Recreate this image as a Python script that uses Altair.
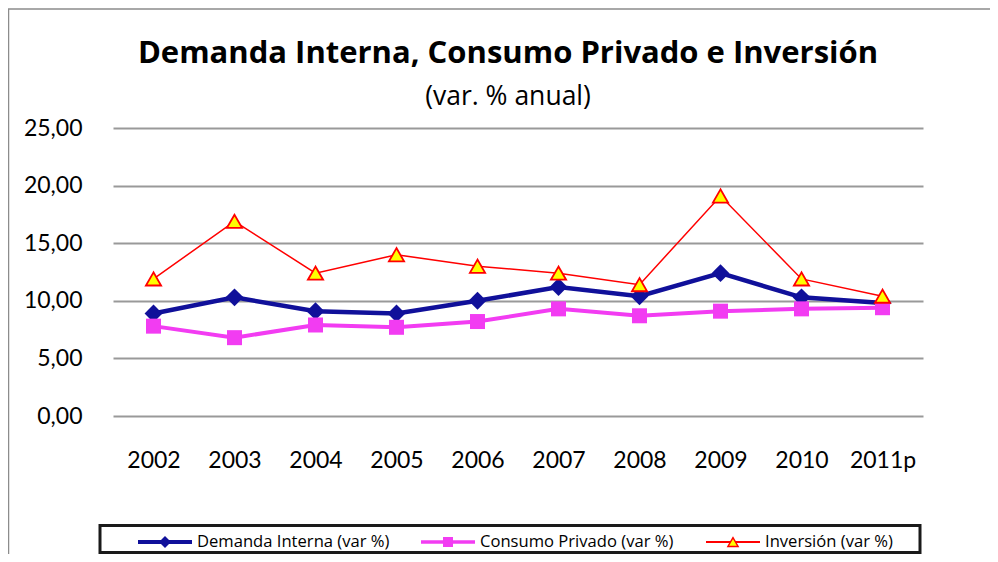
import altair as alt
import pandas as pd

years = ["2002", "2003", "2004", "2005", "2006", "2007", "2008", "2009", "2010", "2011p"]
demanda = [8.9, 10.3, 9.1, 8.9, 10.0, 11.2, 10.4, 12.4, 10.3, 9.8]
consumo = [7.8, 6.8, 7.9, 7.7, 8.2, 9.3, 8.7, 9.1, 9.3, 9.4]
inversion = [11.9, 16.9, 12.4, 14.0, 13.0, 12.4, 11.4, 19.1, 11.9, 10.4]

series_names = ["Demanda Interna (var  %)", "Consumo Privado (var %)", "Inversión (var %)"]
title_text = "Demanda Interna, Consumo Privado e Inversión"
subtitle_text = "(var. % anual)"

rows = []
for name, vals in zip(series_names, [demanda, consumo, inversion]):
    for y, v in zip(years, vals):
        rows.append({"year": y, "value": v, "series": name})
df = pd.DataFrame(rows)

FONT = "Lato"
TFONT = "Open Sans"
W, H = 810, 288

x_enc = alt.X("year:N", sort=years,
              scale=alt.Scale(type="point", padding=0.5),
              axis=alt.Axis(title=None, labelFontSize=23, labelFont=FONT, labelColor="#000",
                            labelPadding=33, ticks=False, domain=False, grid=False,
                            labelAngle=0))
y_enc = alt.Y("value:Q", scale=alt.Scale(domain=[0, 25], nice=False, zero=True),
              axis=alt.Axis(title=None, values=[0, 5, 10, 15, 20, 25],
                            labelExpr="replace(format(datum.value, '.2f'), '.', ',')",
                            labelFontSize=23, labelFont=FONT, labelColor="#000",
                            labelPadding=31, ticks=False, domain=False,
                            grid=True, gridColor="#999999", gridWidth=2))

base = alt.Chart(df)

styles = [
    (series_names[0], "#10109a", 4.5, "diamond", 320, "#10109a", "#10109a", 0),
    (series_names[1], "#f23cf2", 4, "square", 225, "#f23cf2", "#f23cf2", 0),
    (series_names[2], "#ff0000", 1.5, "triangle-up", 230, "#ffff00", "#ff0000", 1.8),
]

layers = []
for name, col, lw, shp, sz, fill, stroke, sw in styles:
    b = base.transform_filter(alt.datum.series == name)
    line = b.mark_line(color=col, strokeWidth=lw).encode(x=x_enc, y=y_enc)
    pts = b.mark_point(shape=shp, size=sz, filled=True, fill=fill, stroke=stroke,
                       strokeWidth=sw, opacity=1).encode(x=x_enc, y=y_enc)
    layers += [line, pts]

one = pd.DataFrame({"k": [0]})

# outer frame
frame = alt.Chart(one).mark_rect(fill=None, stroke="#8c8c8c", strokeWidth=1.5).encode(
    x=alt.value(-104.5), x2=alt.value(1100), y=alt.value(-119), y2=alt.value(700))

# titles
title = alt.Chart(one).mark_text(text=title_text, font=TFONT, fontSize=31, fontWeight="bold",
                                 align="center", baseline="alphabetic", color="#000").encode(
    x=alt.value(395), y=alt.value(-65))
subtitle = alt.Chart(one).mark_text(text=subtitle_text, font=TFONT, fontSize=26.5,
                                    align="center", baseline="alphabetic", color="#000").encode(
    x=alt.value(395), y=alt.value(-23))

# legend box
lbox = alt.Chart(one).mark_rect(fill="white", stroke="#1a1a1a", strokeWidth=3).encode(
    x=alt.value(-13), x2=alt.value(807), y=alt.value(397.5), y2=alt.value(424.5))

leg = []
leg_x = [25, 308, 593]
ly = 414
for (name, col, lw, shp, sz, fill, stroke, sw), lx in zip(styles, leg_x):
    leg.append(alt.Chart(one).mark_rule(color=col, strokeWidth=max(lw - 0.5, 2)).encode(
        x=alt.value(lx), x2=alt.value(lx + 54), y=alt.value(ly)))
    leg.append(alt.Chart(one).mark_point(shape=shp, size=sz * 0.45, filled=True, fill=fill,
                                         stroke=stroke, strokeWidth=sw * 0.8, opacity=1).encode(
        x=alt.value(lx + 27), y=alt.value(ly)))
    leg.append(alt.Chart(one).mark_text(text=name, font=TFONT, fontSize=16.6, align="left",
                                        baseline="middle", color="#000").encode(
        x=alt.value(lx + 59), y=alt.value(ly)))

chart = alt.layer(frame, title, subtitle, *layers, lbox, *leg).properties(
    width=W, height=H,
    autosize=alt.AutoSizeParams(type="none"),
    padding={"left": 105, "top": 120, "right": 67, "bottom": 138},
).configure_view(stroke=None)

chart.save("out.html", embed_options={"renderer": "svg", "actions": False})
